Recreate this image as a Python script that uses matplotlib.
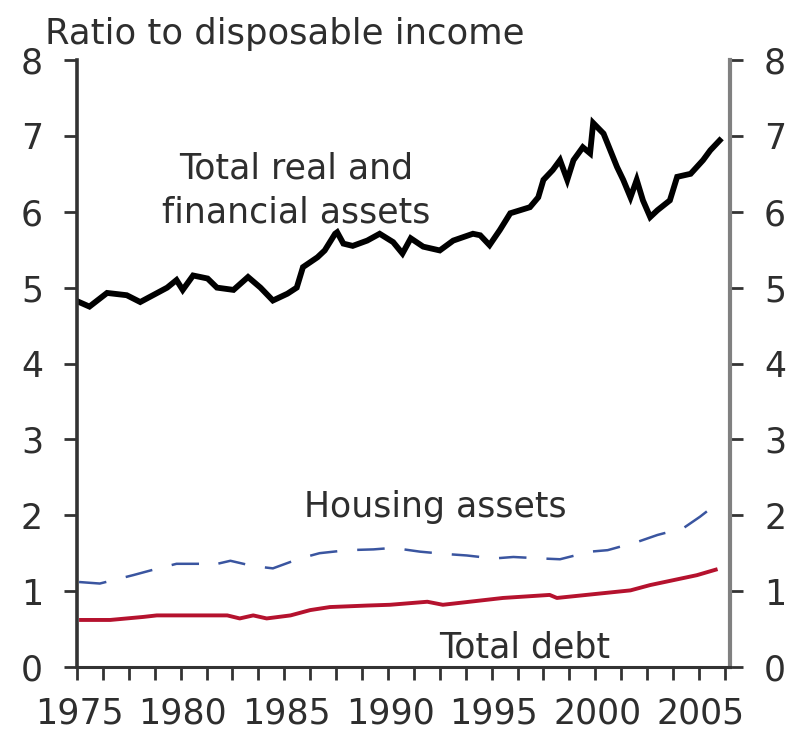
import matplotlib
matplotlib.use("Agg")
import matplotlib.pyplot as plt
from matplotlib.ticker import FixedLocator
import numpy as np

# data (decimal years, ratio to disposable income)
asset_years = [1975.0, 1975.5, 1976.35, 1977.3, 1977.95, 1979.25, 1979.7, 1980.0,
               1980.5, 1981.2, 1981.65, 1982.45, 1983.15, 1983.75, 1984.35, 1985.05,
               1985.5, 1985.8, 1986.5, 1986.85, 1987.35, 1987.45, 1987.75, 1988.2,
               1988.9, 1989.5, 1990.15, 1990.6, 1991.0, 1991.6, 1992.4, 1993.05,
               1994.0, 1994.35, 1994.8, 1995.3, 1995.8, 1996.75, 1997.15, 1997.4,
               1997.85, 1998.2, 1998.55, 1998.85, 1999.3, 1999.65, 1999.8, 2000.3,
               2000.95, 2001.25, 2001.6, 2001.9, 2002.2, 2002.55, 2002.9, 2003.5,
               2003.85, 2004.5, 2005.1, 2005.45, 2005.9]
total_assets = [4.81, 4.75, 4.93, 4.90, 4.81, 5.00, 5.10, 4.97,
                5.16, 5.12, 5.00, 4.97, 5.14, 5.00, 4.83, 4.92,
                5.00, 5.27, 5.40, 5.49, 5.71, 5.73, 5.58, 5.55,
                5.62, 5.71, 5.60, 5.45, 5.65, 5.54, 5.49, 5.62,
                5.71, 5.69, 5.56, 5.76, 5.98, 6.06, 6.19, 6.42,
                6.55, 6.68, 6.42, 6.68, 6.85, 6.77, 7.17, 7.03,
                6.59, 6.42, 6.19, 6.42, 6.15, 5.93, 6.02, 6.15,
                6.46, 6.50, 6.68, 6.81, 6.94]

housing_years = [1975.0, 1976.0, 1977.6, 1978.55, 1979.7, 1980.85, 1981.2, 1982.3,
                 1983.4, 1984.35, 1985.65, 1986.6, 1987.95, 1989.2, 1990.15, 1991.45,
                 1992.65, 1993.7, 1995.0, 1995.95, 1997.35, 1998.2, 1999.65, 2000.5,
                 2001.95, 2002.9, 2004.15, 2004.95, 2005.8]
housing_assets = [1.12, 1.10, 1.21, 1.28, 1.36, 1.36, 1.33, 1.40,
                  1.33, 1.30, 1.43, 1.50, 1.54, 1.55, 1.57, 1.52,
                  1.49, 1.47, 1.43, 1.45, 1.43, 1.42, 1.52, 1.54,
                  1.65, 1.74, 1.83, 1.98, 2.16]

debt_years = [1975.0, 1976.5, 1978.1, 1978.75, 1982.15, 1982.75, 1983.4, 1984.05,
              1985.2, 1986.15, 1987.1, 1988.9, 1990.0, 1991.8, 1992.55, 1995.45,
              1997.7, 1998.05, 2001.6, 2002.55, 2004.8, 2005.8]
total_debt = [0.62, 0.62, 0.66, 0.68, 0.68, 0.64, 0.68, 0.64,
              0.68, 0.75, 0.79, 0.81, 0.82, 0.86, 0.82, 0.91,
              0.95, 0.91, 1.01, 1.08, 1.21, 1.29]

year_labels = [1975, 1980, 1985, 1990, 1995, 2000, 2005]
y_ticks = [0, 1, 2, 3, 4, 5, 6, 7, 8]

txt = "#2e2e2e"

fig = plt.figure(figsize=(7.91, 7.37), dpi=100)
ax = fig.add_axes([77 / 791, 1 - 667 / 737, (730 - 77) / 791, (667 - 60) / 737])

ax.plot(debt_years, total_debt, color="#b5122e", lw=2.8, solid_capstyle="butt")
ax.plot(housing_years, housing_assets, color="#3a55a0", lw=1.8, dashes=(11, 8))
ax.plot(asset_years, total_assets, color="black", lw=4.2, solid_joinstyle="miter")

ax.set_xlim(1974.9, 2006.4)
ax.set_ylim(0, 8)

# year labels without marks, tick marks every 5 quarters
ax.set_xticks(year_labels)
ax.set_xticklabels([str(y) for y in year_labels])
ax.xaxis.set_minor_locator(FixedLocator(1974.9 + 1.25 * np.arange(26)))
ax.tick_params(axis="x", which="major", length=0, pad=21, labelsize=25, labelcolor=txt)
ax.tick_params(axis="x", which="minor", length=9.5, width=2, color="#333333", direction="out")

ax.set_yticks(y_ticks)
ax.tick_params(axis="y", which="major", length=9.5, width=2, color="#333333",
               direction="out", labelsize=25, labelcolor=txt, pad=15,
               left=True, right=True, labelleft=True, labelright=True)

ax.spines["top"].set_visible(False)
ax.spines["left"].set_color("#333333")
ax.spines["left"].set_linewidth(2.6)
ax.spines["bottom"].set_color("#333333")
ax.spines["bottom"].set_linewidth(2.2)
ax.spines["right"].set_color("#808080")
ax.spines["right"].set_linewidth(3)

fig.text(45 / 791, 1 - 44 / 737, "Ratio to disposable income", fontsize=25.5,
         color=txt, ha="left", va="baseline")

ax.text(1985.47, 6.44, "Total real and", fontsize=25, color=txt, ha="center", va="baseline")
ax.text(1985.47, 5.86, "financial assets", fontsize=25, color=txt, ha="center", va="baseline")
ax.text(1992.17, 1.976, "Housing assets", fontsize=25, color=txt, ha="center", va="baseline")
ax.text(1996.5, 0.13, "Total debt", fontsize=25, color=txt, ha="center", va="baseline")

fig.savefig("out.png", dpi=100)
